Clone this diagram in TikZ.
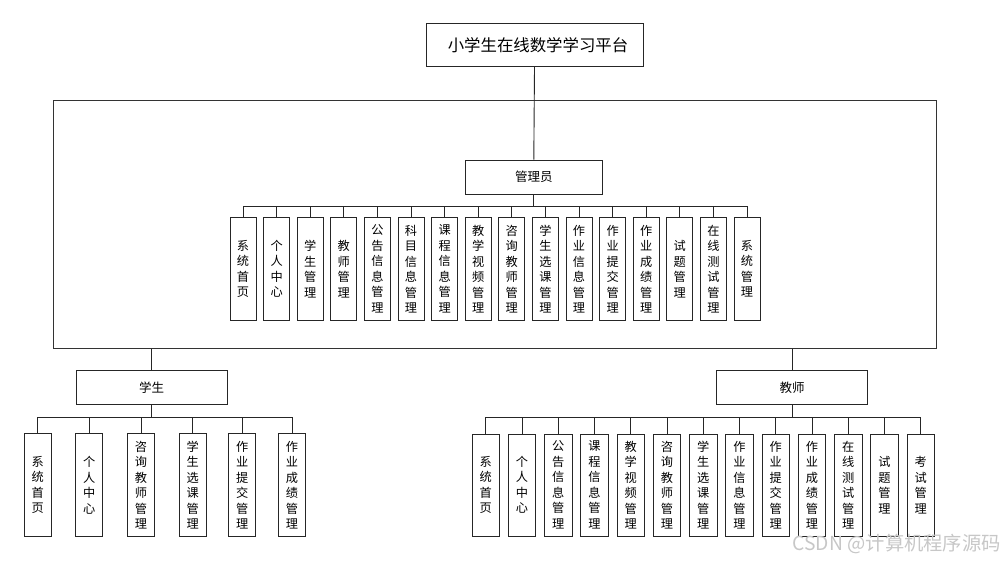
\documentclass[tikz,border=0pt]{standalone}
\usepackage{fontspec}
\newfontfamily\cjk{Noto Sans CJK SC}
\begin{document}
\begin{tikzpicture}[x={(1pt,0)},y={(0,-1pt)},
  ln/.style={draw=black!85, line width=0.9pt},
  headbox/.style={ln, fill=white, inner sep=0pt, font=\cjk\fontsize{12.5}{14}\selectfont},
  childbox/.style={ln, fill=white, anchor=north, inner sep=0pt, align=center,
    font=\cjk\fontsize{12.2}{15.5}\selectfont},
  conn/.style={draw=black!85, line width=0.9pt}]
\useasboundingbox (0,0) rectangle (1004,562);

% top title
\node[headbox, minimum width=217pt, minimum height=43.5pt,
      font=\cjk\fontsize{16.4}{18}\selectfont] (top) at (534.5,45) {\hspace{7pt}小学生在线数学学习平台};

% big frame
\node[draw=black!80, line width=0.9pt, minimum width=883pt, minimum height=248pt,
      inner sep=0pt, anchor=north west] (frame) at (53,100) {};

% admin
\node[headbox, minimum width=137.5pt, minimum height=34pt] (adm) at (533.8,177) {管理员};
\draw[conn] (top.south) -- (adm.north);

% student and teacher
\node[headbox, minimum width=151pt, minimum height=33.5pt] (stu) at (151.6,387.5) {学生};
\node[headbox, minimum width=151pt, minimum height=33.5pt] (tea) at (792.2,387.5) {教师};
\draw[conn] (stu.north |- frame.south) -- (stu.north);
\draw[conn] (tea.north |- frame.south) -- (tea.north);

% admin children
\foreach \t [count=\i from 0] in {
  {系\\统\\首\\页},{个\\人\\中\\心},{学\\生\\管\\理},{教\\师\\管\\理},
  {公\\告\\信\\息\\管\\理},{科\\目\\信\\息\\管\\理},{课\\程\\信\\息\\管\\理},
  {教\\学\\视\\频\\管\\理},{咨\\询\\教\\师\\管\\理},{学\\生\\选\\课\\管\\理},
  {作\\业\\信\\息\\管\\理},{作\\业\\提\\交\\管\\理},{作\\业\\成\\绩\\管\\理},
  {试\\题\\管\\理},{在\\线\\测\\试\\管\\理},{系\\统\\管\\理}}{
  \node[childbox, minimum width=26pt, minimum height=103pt] (a\i) at ({243+33.6*\i},217) {\t};
  \draw[conn] (a\i.north) -- ++(0,-10.5) -| (adm.south);
}

% student children
\foreach \t/\x [count=\i from 0] in {
  {系\\统\\首\\页}/37.8,{个\\人\\中\\心}/89.3,{咨\\询\\教\\师\\管\\理}/141,
  {学\\生\\选\\课\\管\\理}/192.7,{作\\业\\提\\交\\管\\理}/242.3,{作\\业\\成\\绩\\管\\理}/292}{
  \node[childbox, minimum width=27pt, minimum height=102.5pt] (s\i) at (\x,433.3) {\t};
  \draw[conn] (s\i.north) -- ++(0,-16.3) -| (stu.south);
}

% teacher children
\foreach \t [count=\i from 0] in {
  {系\\统\\首\\页},{个\\人\\中\\心},{公\\告\\信\\息\\管\\理},{课\\程\\信\\息\\管\\理},
  {教\\学\\视\\频\\管\\理},{咨\\询\\教\\师\\管\\理},{学\\生\\选\\课\\管\\理},
  {作\\业\\信\\息\\管\\理},{作\\业\\提\\交\\管\\理},{作\\业\\成\\绩\\管\\理},
  {在\\线\\测\\试\\管\\理},{试\\题\\管\\理},{考\\试\\管\\理}}{
  \node[childbox, minimum width=27.5pt, minimum height=102pt] (t\i) at ({485.8+36.25*\i},433.5) {\t};
  \draw[conn] (t\i.north) -- ++(0,-16.2) -| (tea.south);
}

% watermark
\node[anchor=east, text=black!22, inner sep=0pt, font=\cjk\fontsize{19.3}{21}\selectfont] (wm) at (1001,544) {CSDN @计算机程序源码};
\end{tikzpicture}
\end{document}
